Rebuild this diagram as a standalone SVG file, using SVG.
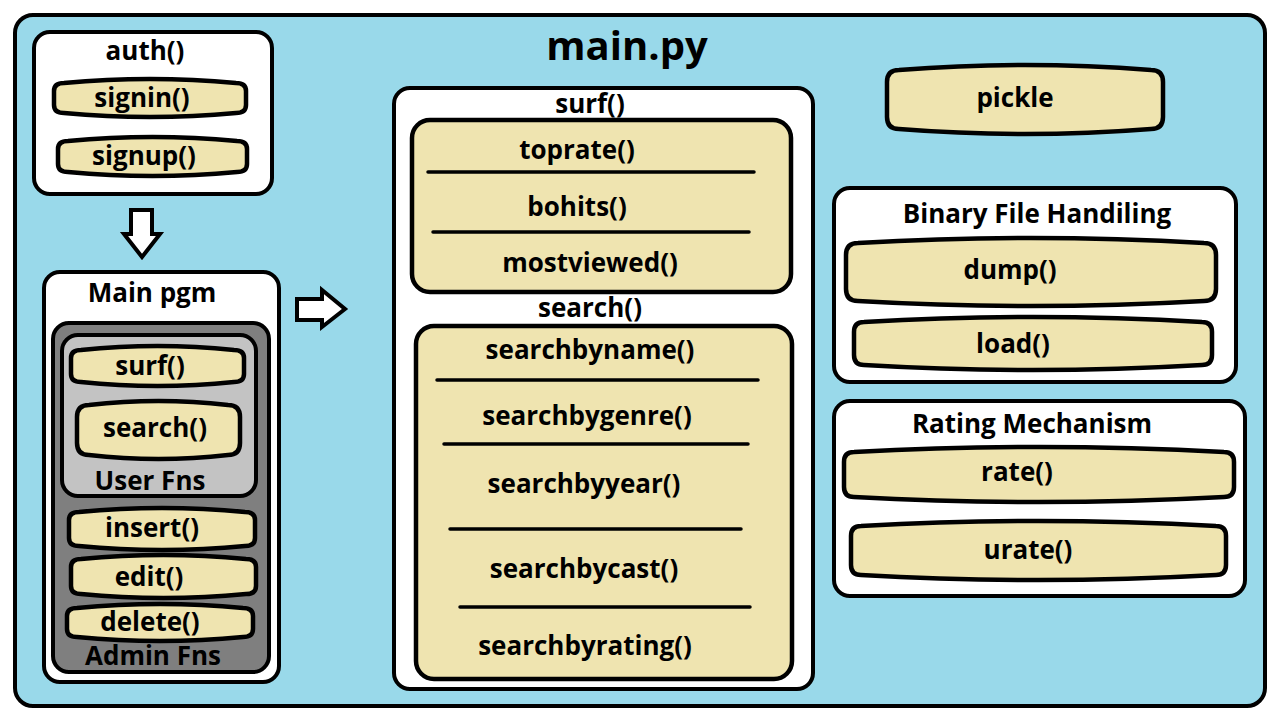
<svg xmlns="http://www.w3.org/2000/svg" width="1280" height="720" viewBox="0 0 1280 720">
<style>
text{font-family:"Open Sans","Noto Sans","Liberation Sans",sans-serif;font-weight:bold;fill:#000;text-anchor:middle}
.t{font-size:26px}
.box{fill:#fff;stroke:#000;stroke-width:4}
.pill{fill:#EFE4B0;stroke:#000;stroke-width:4.5;stroke-linejoin:round}
.sep{stroke:#000;stroke-width:3.5;stroke-linecap:round}
.arrow{fill:#fff;stroke:#000;stroke-width:4;stroke-linejoin:miter}
</style>
<rect width="1280" height="720" fill="#fff"/>
<g id="main">
<rect x="15" y="15" width="1250" height="691" rx="18" fill="#99D9EA" stroke="#000" stroke-width="4"/>
<text x="627" y="60" style="font-size:40px">main.py</text>
</g>
<g id="auth">
<rect class="box" x="34" y="32" width="238" height="162" rx="16"/>
<text class="t" x="145" y="60">auth()</text>
<path class="pill" d="M54,91 Q54,83 64,83 Q150,75 236,83 Q246,83 246,91 L246,105 Q246,113 236,113 Q150,121 64,113 Q54,113 54,105Z"/>
<text class="t" x="142" y="107">signin()</text>
<path class="pill" d="M58,149 Q58,141 68,141 Q152.5,133 237,141 Q247,141 247,149 L247,164 Q247,172 237,172 Q152.5,180 68,172 Q58,172 58,164Z"/>
<text class="t" x="144" y="165">signup()</text>
</g>
<g id="connectors">
<path class="arrow" d="M131,210 H152 V234 H160 L142,257 L124,234 H131 Z"/>
<path class="arrow" d="M297,299 H322 V290 L345,309 L322,327 V320 H297 Z"/>
</g>
<g id="mainpgm">
<rect class="box" x="44" y="272" width="235" height="410" rx="16"/>
<text class="t" x="152" y="302">Main pgm</text>
<rect x="53" y="323" width="216" height="349" rx="16" fill="#7F7F7F" stroke="#000" stroke-width="4"/>
<rect x="62" y="335" width="194" height="161" rx="16" fill="#C3C3C3" stroke="#000" stroke-width="4"/>
<path class="pill" d="M71,358 Q71,350 81,350 Q157.5,342 234,350 Q244,350 244,358 L244,374 Q244,382 234,382 Q157.5,390 81,382 Q71,382 71,374Z"/>
<text class="t" x="150" y="375">surf()</text>
<path class="pill" d="M77,417 Q77,405 89,405 Q158.5,397 228,405 Q240,405 240,417 L240,443 Q240,455 228,455 Q158.5,463 89,455 Q77,455 77,443Z"/>
<text class="t" x="155" y="437">search()</text>
<text class="t" x="150" y="490">User Fns</text>
<path class="pill" d="M69,520 Q69,512 79,512 Q162,504 245,512 Q255,512 255,520 L255,538 Q255,546 245,546 Q162,554 79,546 Q69,546 69,538Z"/>
<text class="t" x="152" y="537">insert()</text>
<path class="pill" d="M71,567 Q71,559 81,559 Q163.5,551 246,559 Q256,559 256,567 L256,586 Q256,594 246,594 Q163.5,602 81,594 Q71,594 71,586Z"/>
<text class="t" x="149" y="586">edit()</text>
<path class="pill" d="M67,616 Q67,608 77,608 Q160,600 243,608 Q253,608 253,616 L253,629 Q253,637 243,637 Q160,645 77,637 Q67,637 67,629Z"/>
<text class="t" x="150" y="631">delete()</text>
<text class="t" x="153" y="665">Admin Fns</text>
</g>
<g id="surf">
<rect class="box" x="394" y="88" width="419" height="601" rx="16"/>
<text class="t" x="590" y="113">surf()</text>
<rect class="pill" x="412" y="120" width="379" height="172" rx="18"/>
<text class="t" x="577" y="159">toprate()</text>
<line class="sep" x1="428" y1="172" x2="754" y2="172"/>
<text class="t" x="577" y="216">bohits()</text>
<line class="sep" x1="433" y1="232" x2="749" y2="232"/>
<text class="t" x="590" y="272">mostviewed()</text>
<text class="t" x="590" y="317">search()</text>
<rect class="pill" x="416" y="326" width="376" height="353" rx="18"/>
<text class="t" x="590" y="359">searchbyname()</text>
<line class="sep" x1="437" y1="380" x2="758" y2="380"/>
<text class="t" x="587" y="425">searchbygenre()</text>
<line class="sep" x1="444" y1="444" x2="748" y2="444"/>
<text class="t" x="584" y="493">searchbyyear()</text>
<line class="sep" x1="450" y1="529" x2="741" y2="529"/>
<text class="t" x="584" y="578">searchbycast()</text>
<line class="sep" x1="460" y1="607" x2="750" y2="607"/>
<text class="t" x="585" y="655">searchbyrating()</text>
</g>
<g id="pickle">
<path class="pill" d="M887,82 Q887,70 899,70 Q1025,60 1151,70 Q1163,70 1163,82 L1163,117 Q1163,129 1151,129 Q1025,139 899,129 Q887,129 887,117Z"/>
<text class="t" x="1015" y="107">pickle</text>
</g>
<g id="binary">
<rect class="box" x="834" y="188" width="402" height="194" rx="16"/>
<text class="t" x="1037" y="223">Binary File Handiling</text>
<path class="pill" d="M846,255 Q846,243 858,243 Q1031,233 1204,243 Q1216,243 1216,255 L1216,289 Q1216,301 1204,301 Q1031,311 858,301 Q846,301 846,289Z"/>
<text class="t" x="1010" y="279">dump()</text>
<path class="pill" d="M854,332 Q854,322 864,322 Q1033,312 1202,322 Q1212,322 1212,332 L1212,355 Q1212,365 1202,365 Q1033,375 864,365 Q854,365 854,355Z"/>
<text class="t" x="1013" y="353">load()</text>
</g>
<g id="rating">
<rect class="box" x="834" y="401" width="411" height="195" rx="16"/>
<text class="t" x="1032" y="433">Rating Mechanism</text>
<path class="pill" d="M844,462 Q844,452 854,452 Q1039,442 1224,452 Q1234,452 1234,462 L1234,487 Q1234,497 1224,497 Q1039,507 854,497 Q844,497 844,487Z"/>
<text class="t" x="1017" y="481">rate()</text>
<path class="pill" d="M851,536 Q851,526 861,526 Q1038.5,516 1216,526 Q1226,526 1226,536 L1226,565 Q1226,575 1216,575 Q1038.5,585 861,575 Q851,575 851,565Z"/>
<text class="t" x="1028" y="559">urate()</text>
</g>
</svg>
